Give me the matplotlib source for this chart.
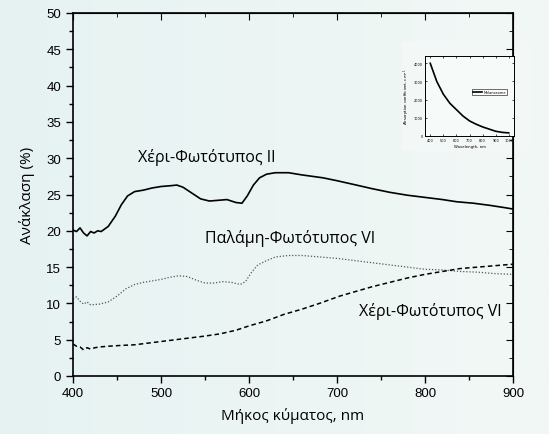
import numpy as np
import matplotlib
matplotlib.use("Agg")
import matplotlib.pyplot as plt
from matplotlib.ticker import MultipleLocator
from matplotlib.colors import LinearSegmentedColormap
from matplotlib.patches import Rectangle

# ---------------- data ----------------
wl_hand2 = [400, 404, 408, 412, 416, 420, 424, 428, 432, 440, 448, 455, 462, 470, 480, 490, 500,
            510, 518, 525, 535, 545, 555, 565, 575, 585, 592, 598, 605, 612, 620, 630, 645, 660,
            684, 700, 722, 740, 760, 780, 800, 820, 836, 855, 874, 890, 900]
r_hand2 = [20.1, 19.9, 20.4, 19.7, 19.3, 19.9, 19.7, 20.0, 19.9, 20.6, 22.0, 23.6, 24.8, 25.4, 25.6,
           25.9, 26.1, 26.2, 26.3, 26.0, 25.2, 24.4, 24.1, 24.2, 24.3, 23.9, 23.8, 24.8, 26.3, 27.3,
           27.8, 28.0, 28.0, 27.7, 27.3, 26.9, 26.3, 25.8, 25.3, 24.9, 24.6, 24.3, 24.0, 23.8, 23.5,
           23.2, 23.0]

wl_palm6 = [400, 404, 408, 412, 416, 420, 430, 440, 450, 460, 470, 480, 490, 500, 510, 520, 530,
            540, 550, 560, 570, 580, 590, 596, 603, 610, 620, 630, 645, 660, 680, 700, 720, 740,
            760, 780, 800, 820, 840, 860, 880, 900]
r_palm6 = [10.6, 10.9, 10.3, 9.9, 10.2, 9.8, 9.9, 10.2, 11.0, 12.0, 12.6, 12.9, 13.1, 13.3, 13.6,
           13.8, 13.7, 13.2, 12.8, 12.8, 13.0, 12.9, 12.6, 13.0, 14.3, 15.3, 15.9, 16.4, 16.6, 16.6,
           16.4, 16.2, 15.9, 15.6, 15.3, 15.0, 14.7, 14.6, 14.4, 14.3, 14.1, 14.0]

wl_hand6 = [400, 404, 408, 412, 416, 420, 425, 430, 440, 453, 470, 490, 510, 530, 550, 567, 585,
            600, 620, 640, 660, 680, 703, 720, 740, 760, 780, 800, 820, 840, 860, 880, 900]
r_hand6 = [4.4, 4.1, 4.0, 3.6, 3.9, 3.7, 3.9, 4.0, 4.1, 4.2, 4.3, 4.6, 4.9, 5.2, 5.5, 5.8, 6.3,
           6.9, 7.6, 8.5, 9.2, 10.0, 11.0, 11.6, 12.3, 12.9, 13.5, 14.0, 14.4, 14.8, 15.0, 15.2, 15.4]

# inset: melanosome absorption coefficient
wl_inset = [400, 450, 500, 550, 600, 650, 700, 750, 800, 850, 900, 950, 1000]
mu_inset = [4000, 3000, 2300, 1800, 1450, 1100, 830, 650, 500, 380, 260, 200, 170]

labels = ["Χέρι-Φωτότυπος ΙΙ", "Παλάμη-Φωτότυπος VI", "Χέρι-Φωτότυπος VI"]

# ---------------- figure ----------------
bg = "#eef6f5"
fig = plt.figure(figsize=(5.49, 4.35), dpi=100, facecolor=bg)

# subtle background gradient
gax = fig.add_axes([0, 0, 1, 1], zorder=-10)
grad = np.linspace(0, 1, 256)[None, :]
cm = LinearSegmentedColormap.from_list("bgc", ["#e6f2f2", "#f2f8f6"])
gax.imshow(grad, aspect="auto", cmap=cm, extent=[0, 1, 0, 1])
gax.add_patch(Rectangle((402/549, (435-152)/435), 128/549, 110/435,
                        transform=gax.transAxes, color="#f3f8f7", lw=0))
gax.set_xlim(0, 1)
gax.set_ylim(0, 1)
gax.axis("off")

ax = fig.add_axes([73/549, 58/435, 440/549, 363/435])
ax.patch.set_alpha(0)

ax.plot(wl_hand2, r_hand2, color="black", lw=1.2, ls="-")
ax.plot(wl_palm6, r_palm6, color="#555555", lw=0.9, ls=(0, (1, 1.5)))
ax.plot(wl_hand6, r_hand6, color="black", lw=1.1, ls=(0, (3, 2)))

ax.set_xlim(400, 900)
ax.set_ylim(0, 50)
ax.xaxis.set_major_locator(MultipleLocator(100))
ax.xaxis.set_minor_locator(MultipleLocator(50))
ax.yaxis.set_major_locator(MultipleLocator(5))
ax.yaxis.set_minor_locator(MultipleLocator(2.5))

tickfont = "Liberation Sans"
ax.tick_params(which="both", direction="out", left=True, bottom=True, top=False, right=False,
               labelsize=9.5, width=1)
ax.tick_params(which="major", length=5)
ax.tick_params(which="minor", length=3)
for lab in ax.get_xticklabels() + ax.get_yticklabels():
    lab.set_fontfamily(tickfont)
ax.tick_params(axis="x", pad=3)

# inward ticks on top / right
axt = ax.secondary_xaxis("top")
axt.xaxis.set_major_locator(MultipleLocator(100))
axt.xaxis.set_minor_locator(MultipleLocator(50))
axt.tick_params(which="both", direction="in", labeltop=False)
axt.tick_params(which="major", length=5)
axt.tick_params(which="minor", length=3)
axr = ax.secondary_yaxis("right")
axr.yaxis.set_major_locator(MultipleLocator(5))
axr.yaxis.set_minor_locator(MultipleLocator(2.5))
axr.tick_params(which="both", direction="in", labelright=False)
axr.tick_params(which="major", length=5)
axr.tick_params(which="minor", length=3)

for s in ax.spines.values():
    s.set_linewidth(1.2)

lblfont = ["Open Sans", "DejaVu Sans"]
ax.set_xlabel("Μήκος κύματος, nm", fontsize=11, family=lblfont, labelpad=6)
ax.set_ylabel("Ανάκλαση (%)", fontsize=11, family=lblfont, labelpad=8)

ax.text(552, 30.3, labels[0], fontsize=11.5, family=lblfont, ha="center", va="center")
ax.text(647, 19.1, labels[1], fontsize=11.5, family=lblfont, ha="center", va="center")
ax.text(806, 9.0, labels[2], fontsize=11.5, family=lblfont, ha="center", va="center")

# ---------------- inset ----------------
iax = fig.add_axes([425/549, (435-137)/435, 89/549, 80/435])
iax.set_facecolor("#f6faf9")
iax.plot(wl_inset, mu_inset, color="black", lw=1.2, label="Melanosome")
iax.set_xlim(360, 1040)
iax.set_ylim(0, 4400)
iax.xaxis.set_major_locator(MultipleLocator(100))
iax.yaxis.set_major_locator(MultipleLocator(1000))
iax.tick_params(which="both", direction="in", top=True, right=True, labelsize=2.5,
                length=1.5, width=0.5, pad=1.5)
for s in iax.spines.values():
    s.set_linewidth(0.7)
iax.set_xlabel("Wavelength, nm", fontsize=2.8, labelpad=1.5)
iax.set_ylabel("Absorption coefficient, cm$^{-1}$", fontsize=2.8, labelpad=1.5)
leg = iax.legend(loc="center right", bbox_to_anchor=(0.94, 0.55), fontsize=2.5, frameon=True,
                 fancybox=False, edgecolor="black", handlelength=2.5, borderpad=0.3,
                 handletextpad=0.4)
leg.get_frame().set_linewidth(0.5)

fig.savefig("out.png", dpi=100, facecolor=fig.get_facecolor())
